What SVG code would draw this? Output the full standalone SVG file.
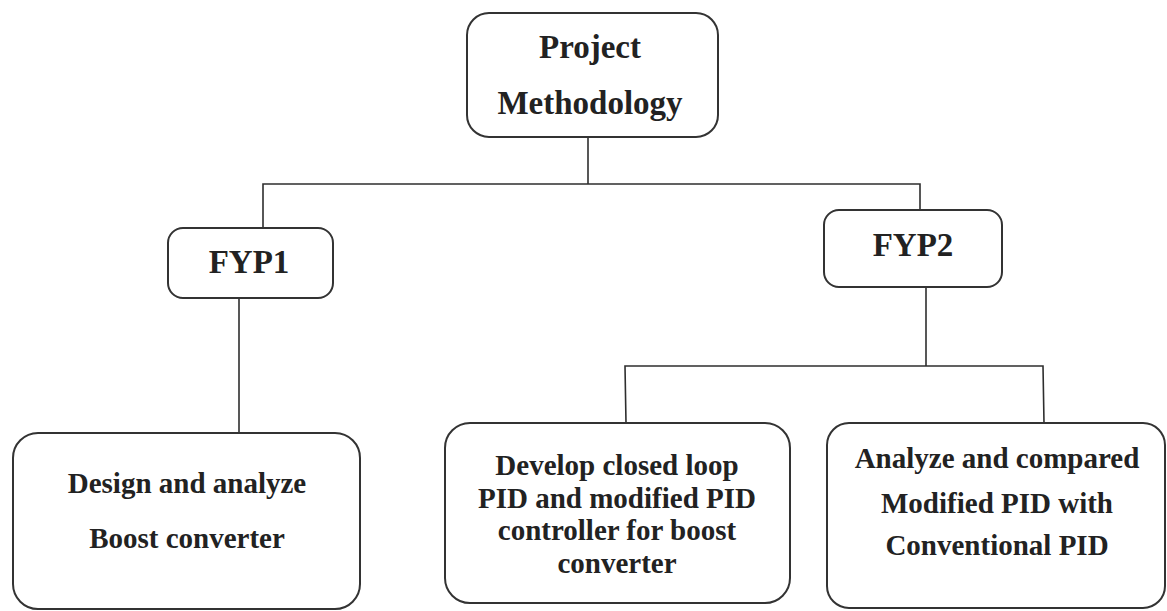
<svg xmlns="http://www.w3.org/2000/svg" width="1167" height="611" viewBox="0 0 1167 611">
<style>
.box{fill:#ffffff;stroke:#333333;stroke-width:2}
.t{font-family:"Liberation Serif","Times New Roman",serif;font-weight:bold;fill:#222222;text-anchor:middle}
.s{font-size:29px}
.l{font-size:33px}
.c{stroke:#2e2e2e;stroke-width:1.6;fill:none}
</style>
<rect width="1167" height="611" fill="#ffffff"/>
<g id="connectors">
<polyline class="c" points="588,137 588,184"/>
<polyline class="c" points="263,228 263,184 920,184 920,210"/>
<polyline class="c" points="239,298 239,433"/>
<polyline class="c" points="926,287 926,366"/>
<polyline class="c" points="626,423 625,366 1043,366 1044,423"/>
</g>
<g id="project-methodology">
<rect class="box" x="467" y="13" width="251" height="124" rx="22"/>
<text class="t l" x="590" y="58">Project</text>
<text class="t l" x="590" y="114">Methodology</text>
</g>
<g id="fyp1">
<rect class="box" x="168" y="228" width="165" height="70" rx="15"/>
<text class="t l" x="249" y="273">FYP1</text>
</g>
<g id="fyp2">
<rect class="box" x="824" y="210" width="178" height="77" rx="15"/>
<text class="t l" x="913" y="256">FYP2</text>
</g>
<g id="design-boost">
<rect class="box" x="13" y="433" width="347" height="176" rx="25"/>
<text class="t s" x="187" y="493">Design and analyze</text>
<text class="t s" x="187" y="548">Boost converter</text>
</g>
<g id="develop-pid">
<rect class="box" x="445" y="423" width="345" height="180" rx="25"/>
<text class="t s" x="617" y="475">Develop closed loop</text>
<text class="t s" x="617" y="508">PID and modified PID</text>
<text class="t s" x="617" y="540">controller for boost</text>
<text class="t s" x="617" y="573">converter</text>
</g>
<g id="analyze-compare">
<rect class="box" x="827" y="423" width="338" height="185" rx="22"/>
<text class="t s" x="997" y="468">Analyze and compared</text>
<text class="t s" x="997" y="513">Modified PID with</text>
<text class="t s" x="997" y="555">Conventional PID</text>
</g>
</svg>
